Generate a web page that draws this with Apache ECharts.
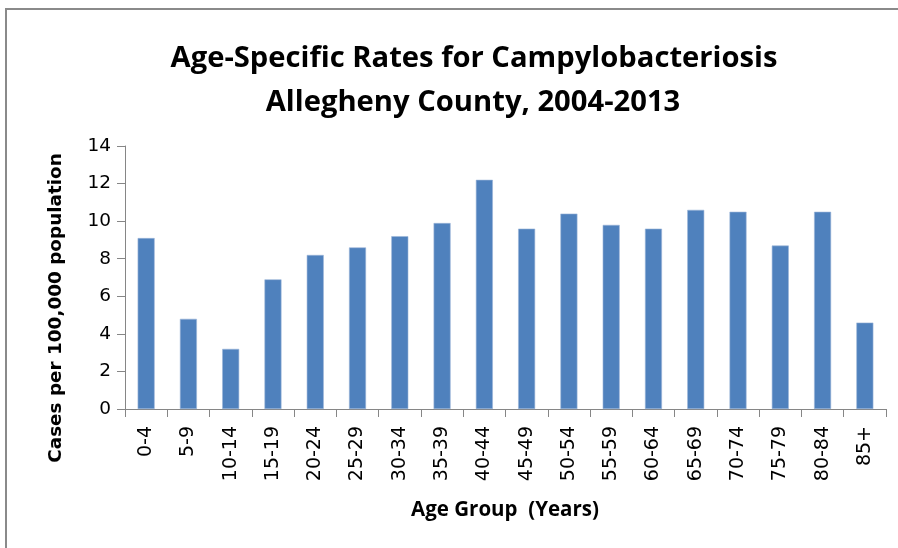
<!DOCTYPE html>
<html>
<head>
<meta charset="utf-8">
<script src="https://cdn.jsdelivr.net/npm/echarts@6/dist/echarts.min.js"></script>
<style>html,body{margin:0;padding:0;background:#fff}#c{width:898px;height:548px}</style>
</head>
<body>
<div id="c"></div>
<script>
const categories = ['0-4','5-9','10-14','15-19','20-24','25-29','30-34','35-39','40-44','45-49','50-54','55-59','60-64','65-69','70-74','75-79','80-84','85+'];
const rates = [9.1, 4.8, 3.2, 6.9, 8.2, 8.6, 9.2, 9.9, 12.2, 9.6, 10.4, 9.8, 9.6, 10.6, 10.5, 8.7, 10.5, 4.6];
const titleLines = ['Age-Specific Rates for Campylobacteriosis', 'Allegheny County, 2004-2013'];
const xName = 'Age Group  (Years)';
const yName = 'Cases per 100,000 population';

const chart = echarts.init(document.getElementById('c'), null, {renderer: 'canvas'});
const axisGray = '#868686';
chart.setOption({
  animation: false,
  backgroundColor: '#ffffff',
  grid: {left: 125, right: 12, top: 146, bottom: 139, containLabel: false},
  xAxis: {
    type: 'category',
    data: categories,
    boundaryGap: true,
    axisLine: {show: true, lineStyle: {color: axisGray, width: 1}},
    axisTick: {show: true, interval: 0, length: 8, lineStyle: {color: axisGray}},
    axisLabel: {interval: 0, rotate: 90, margin: 17, color: '#000', fontFamily: 'DejaVu Sans', fontSize: 19}
  },
  yAxis: {
    type: 'value',
    min: 0, max: 14, interval: 2,
    axisLine: {show: true, lineStyle: {color: axisGray, width: 1}},
    axisTick: {show: true, length: 8, lineStyle: {color: axisGray}},
    splitLine: {show: false},
    axisLabel: {margin: 14, color: '#000', fontFamily: 'DejaVu Sans', fontSize: 18.5}
  },
  series: [{
    type: 'bar',
    data: rates,
    barWidth: 17,
    itemStyle: {color: '#4F81BD', borderColor: '#9cb6d8', borderWidth: 0.6}
  }],
  graphic: [
    {type: 'rect', shape: {x: 6, y: 9, width: 1000, height: 1000}, style: {fill: 'none', stroke: '#8a8a8a', lineWidth: 2}, silent: true},
    {type: 'text', style: {text: titleLines[0], x: 474, y: 59, textAlign: 'center', textVerticalAlign: 'middle', font: 'bold 29.2px "Open Sans"', fill: '#000'}},
    {type: 'text', style: {text: titleLines[1], x: 473, y: 103, textAlign: 'center', textVerticalAlign: 'middle', font: 'bold 29.2px "Open Sans"', fill: '#000'}},
    {type: 'text', style: {text: xName, x: 505, y: 510, textAlign: 'center', textVerticalAlign: 'middle', font: 'bold 20.5px "Open Sans"', fill: '#000'}},
    {type: 'text', x: 56, y: 308, rotation: Math.PI / 2, style: {text: yName, x: 0, y: 0, textAlign: 'center', textVerticalAlign: 'middle', font: 'bold 18.4px "DejaVu Sans"', fill: '#000'}}
  ]
});
</script>
</body>
</html>
